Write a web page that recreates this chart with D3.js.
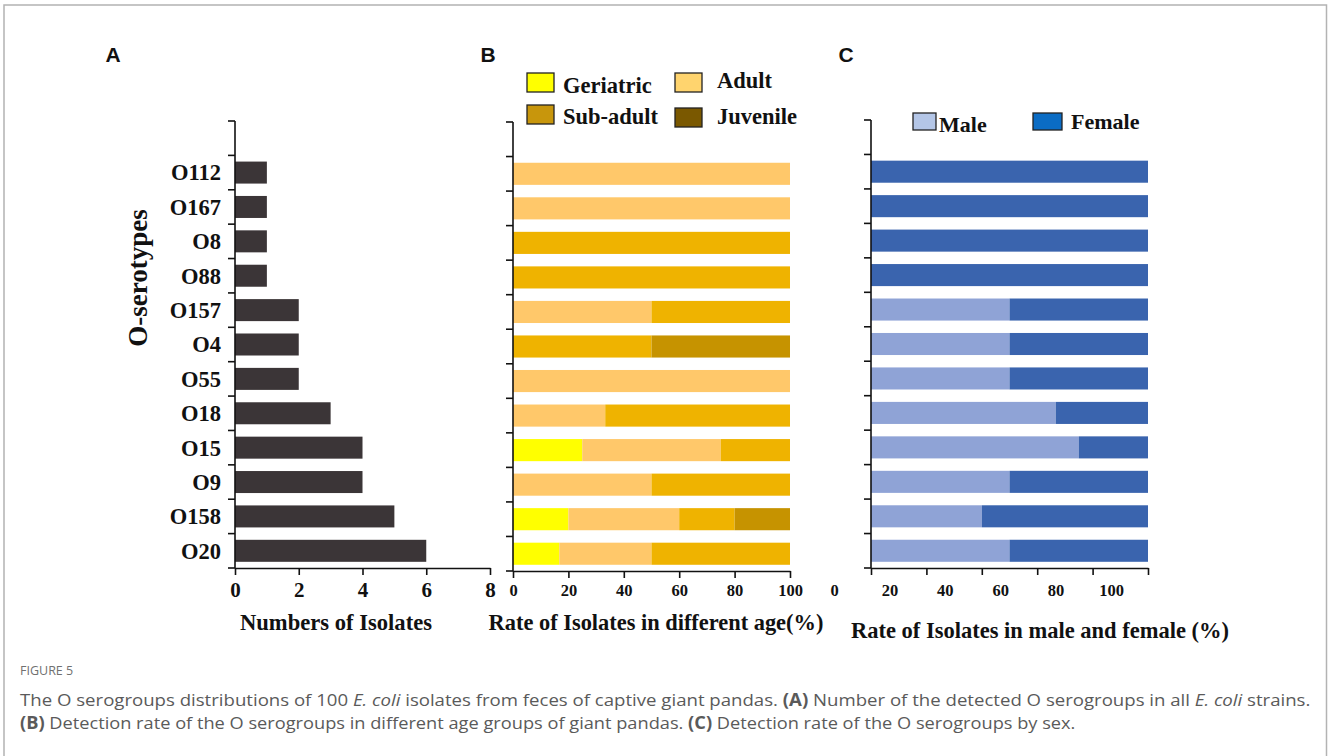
<!DOCTYPE html>
<html>
<head>
<meta charset="utf-8">
<script src="https://cdn.jsdelivr.net/npm/d3@7"></script>
<style>
  html, body { margin: 0; padding: 0; background: #fff; }
  svg { display: block; }
  .serif { font-family: "Liberation Serif", "Times New Roman", serif; font-weight: bold; fill: #111; }
</style>
</head>
<body>
<svg id="fig" width="1328" height="756"></svg>
<script>
// O-serogroups, top row of the plot is left empty
const categories = ["", "O112", "O167", "O8", "O88", "O157", "O4", "O55", "O18", "O15", "O9", "O158", "O20"];
const serotypes = categories.slice(1);

// Panel A: number of isolates per serogroup
const isolateCounts = [1, 1, 1, 1, 2, 2, 2, 3, 4, 4, 5, 6];

// Panel B: share of isolates (%) in each age group
const ageGroups = ["Geriatric", "Adult", "Sub-adult", "Juvenile"];
const geriatricPct = [0, 0, 0, 0, 0, 0, 0, 0, 25, 0, 20, 16.7];
const adultPct     = [100, 100, 0, 0, 50, 0, 100, 33.3, 50, 50, 40, 33.3];
const subAdultPct  = [0, 0, 100, 100, 50, 50, 0, 66.7, 25, 50, 20, 50];
const juvenilePct  = [0, 0, 0, 0, 0, 50, 0, 0, 0, 0, 20, 0];

// Panel C: share of isolates (%) by sex
const sexGroups = ["Male", "Female"];
const malePct   = [0, 0, 0, 0, 50, 50, 50, 66.7, 75, 50, 40, 50];
const femalePct = [100, 100, 100, 100, 50, 50, 50, 33.3, 25, 50, 60, 50];

// Tick labels
const countTicks = [0, 2, 4, 6, 8];
const pctTicks = [0, 20, 40, 60, 80, 100];

const svg = d3.select("#fig");

// outer frame
svg.append("rect").attr("x", 4).attr("y", 5).attr("width", 1322.5).attr("height", 760)
  .attr("fill", "none").attr("stroke", "#b3b3b3").attr("stroke-width", 1.5);

const BAR_FRAC = 0.64;

function drawAxes(g, x, y, ticks, opts) {
  const [x0, x1] = x.range();
  const [y0, y1] = y.range();
  const tickLen = 7;
  // y axis line and band-boundary ticks
  g.append("line").attr("x1", x0).attr("x2", x0).attr("y1", y0).attr("y2", y1)
    .attr("stroke", "#111").attr("stroke-width", 1.6);
  const bounds = categories.map(c => y(c)).concat([y1]);
  g.selectAll(".ytick").data(bounds).join("line")
    .attr("x1", x0 - tickLen).attr("x2", x0).attr("y1", d => d).attr("y2", d => d)
    .attr("stroke", "#111").attr("stroke-width", 1.6);
  // x axis
  const ax = d3.axisBottom(x).tickValues(ticks).tickSize(tickLen).tickSizeOuter(0).tickPadding(0);
  const xg = g.append("g").attr("transform", `translate(0,${y1})`).call(ax);
  xg.select(".domain").attr("stroke", "#111").attr("stroke-width", 1.6);
  xg.selectAll(".tick line").attr("stroke", "#111").attr("stroke-width", 1.6);
  xg.selectAll(".tick text")
    .attr("class", "serif")
    .attr("font-size", opts.tickFont)
    .attr("fill", "#111")
    .attr("dy", null)
    .attr("y", opts.tickY)
    .attr("x", opts.tickDx || 0);
}

// ---------- Panel A ----------
const gA = svg.append("g");
const xA = d3.scaleLinear().domain([0, 8]).range([235, 490]);
const yA = d3.scaleBand().domain(categories).range([121, 568]);
gA.selectAll("rect.bar").data(serotypes).join("rect")
  .attr("x", xA(0)).attr("y", d => yA(d) + yA.bandwidth() * (1 - BAR_FRAC) / 2)
  .attr("width", (d, i) => xA(isolateCounts[i]) - xA(0))
  .attr("height", yA.bandwidth() * BAR_FRAC)
  .attr("fill", "#3b3537");
drawAxes(gA, xA, yA, countTicks, { tickFont: "21px", tickY: 29 });
gA.selectAll("text.cat").data(serotypes).join("text")
  .attr("class", "serif").attr("font-size", "22.5px").attr("text-anchor", "end")
  .attr("x", 221).attr("y", d => yA(d) + yA.bandwidth() / 2).attr("dy", "0.35em")
  .text(d => d);
svg.append("text").attr("class", "serif").attr("font-size", "27px").attr("text-anchor", "middle")
  .attr("transform", "translate(147,278) rotate(-90)").text("O-serotypes");
svg.append("text").attr("class", "serif").attr("font-size", "22.6px").attr("text-anchor", "middle")
  .attr("x", 336).attr("y", 630).text("Numbers of Isolates");

// ---------- Panel B ----------
const gB = svg.append("g");
const xB = d3.scaleLinear().domain([0, 100]).range([513, 790]);
const yB = d3.scaleBand().domain(categories).range([122, 571]);
const barAgeColors = ["#ffff00", "#ffc86a", "#efb300", "#c69300"];
const ageRows = serotypes.map((s, i) => ({
  cat: s, Geriatric: geriatricPct[i], Adult: adultPct[i], "Sub-adult": subAdultPct[i], Juvenile: juvenilePct[i]
}));
const stackB = d3.stack().keys(ageGroups)(ageRows);
gB.selectAll("g.layer").data(stackB).join("g")
  .attr("fill", (d, i) => barAgeColors[i])
  .selectAll("rect").data(d => d).join("rect")
  .attr("x", d => xB(d[0])).attr("width", d => xB(d[1]) - xB(d[0]))
  .attr("y", d => yB(d.data.cat) + yB.bandwidth() * (1 - BAR_FRAC) / 2)
  .attr("height", yB.bandwidth() * BAR_FRAC);
drawAxes(gB, xB, yB, pctTicks, { tickFont: "16.5px", tickY: 25 });
svg.append("text").attr("class", "serif").attr("font-size", "22.4px").attr("text-anchor", "middle")
  .attr("x", 656).attr("y", 630).text("Rate of Isolates in different age(%)");

// age legend
const legAgeColors = ["#ffff00", "#ffd46e", "#c8960c", "#7a5800"];
const legAgePos = [
  { x: 527, y: 73, tx: 563, ty: 93 },
  { x: 675, y: 73, tx: 717, ty: 88 },
  { x: 527, y: 105, tx: 563, ty: 124 },
  { x: 675, y: 108, tx: 717, ty: 124 }
];
ageGroups.forEach((name, i) => {
  const p = legAgePos[i];
  svg.append("rect").attr("x", p.x).attr("y", p.y).attr("width", 27).attr("height", 19)
    .attr("fill", legAgeColors[i]).attr("stroke", "#222").attr("stroke-width", 1.3);
  svg.append("text").attr("class", "serif").attr("font-size", "22.5px")
    .attr("x", p.tx).attr("y", p.ty).text(name);
});

// ---------- Panel C ----------
const gC = svg.append("g");
const xC = d3.scaleLinear().domain([0, 100]).range([871, 1148]);
const yC = d3.scaleBand().domain(categories).range([120, 568]);
const barSexColors = ["#8fa3d6", "#3a64ae"];
const sexRows = serotypes.map((s, i) => ({ cat: s, Male: malePct[i], Female: femalePct[i] }));
const stackC = d3.stack().keys(sexGroups)(sexRows);
gC.selectAll("g.layer").data(stackC).join("g")
  .attr("fill", (d, i) => barSexColors[i])
  .selectAll("rect").data(d => d).join("rect")
  .attr("x", d => xC(d[0])).attr("width", d => xC(d[1]) - xC(d[0]))
  .attr("y", d => yC(d.data.cat) + yC.bandwidth() * (1 - BAR_FRAC) / 2)
  .attr("height", yC.bandwidth() * BAR_FRAC);
drawAxes(gC, xC, yC, pctTicks, { tickFont: "16.5px", tickY: 28, tickDx: -37 });
svg.append("text").attr("class", "serif").attr("font-size", "22.5px").attr("text-anchor", "middle")
  .attr("x", 1040).attr("y", 638).text("Rate of Isolates in male and female (%)");

// sex legend
const legSexColors = ["#b4c6e7", "#0b6cc4"];
const legSexPos = [
  { x: 913, y: 113, w: 23, tx: 939, ty: 132 },
  { x: 1033, y: 113, w: 29, tx: 1071, ty: 129 }
];
sexGroups.forEach((name, i) => {
  const p = legSexPos[i];
  svg.append("rect").attr("x", p.x).attr("y", p.y).attr("width", p.w).attr("height", 17)
    .attr("fill", legSexColors[i]).attr("stroke", "#222").attr("stroke-width", 1.3);
  svg.append("text").attr("class", "serif").attr("font-size", "22px")
    .attr("x", p.tx).attr("y", p.ty).text(name);
});

// panel letters
[["A", 113], ["B", 488], ["C", 846]].forEach(([t, x]) => {
  svg.append("text").attr("x", x).attr("y", 62).attr("text-anchor", "middle")
    .attr("font-family", "'Liberation Sans', Arial, sans-serif").attr("font-weight", "bold")
    .attr("font-size", "21px").attr("fill", "#111").text(t);
});

// ---------- Caption ----------
const capFont = "'Open Sans', 'Noto Sans', sans-serif";
svg.append("text").attr("x", 20).attr("y", 675).attr("font-family", capFont)
  .attr("font-size", "12.5px").attr("fill", "#707070").text("FIGURE 5");

function captionLine(y, parts, targetWidth) {
  const t = svg.append("text").attr("font-family", capFont).attr("font-size", "17px").attr("fill", "#5a5a5a");
  parts.forEach(([s, style]) => {
    const ts = t.append("tspan").text(s);
    if (style === "b") ts.attr("font-weight", "bold");
    if (style === "i") ts.attr("font-style", "italic");
  });
  const w = t.node().getComputedTextLength();
  t.attr("transform", `translate(20,${y}) scale(${targetWidth / w},1)`);
}
captionLine(706, [
  ["The O serogroups distributions of 100 "], ["E. coli", "i"],
  [" isolates from feces of captive giant pandas. "], ["(A)", "b"],
  [" Number of the detected O serogroups in all "], ["E. coli", "i"], [" strains."]
], 1291);
captionLine(729, [
  ["(B)", "b"], [" Detection rate of the O serogroups in different age groups of giant pandas. "],
  ["(C)", "b"], [" Detection rate of the O serogroups by sex."]
], 1056);
</script>
</body>
</html>
